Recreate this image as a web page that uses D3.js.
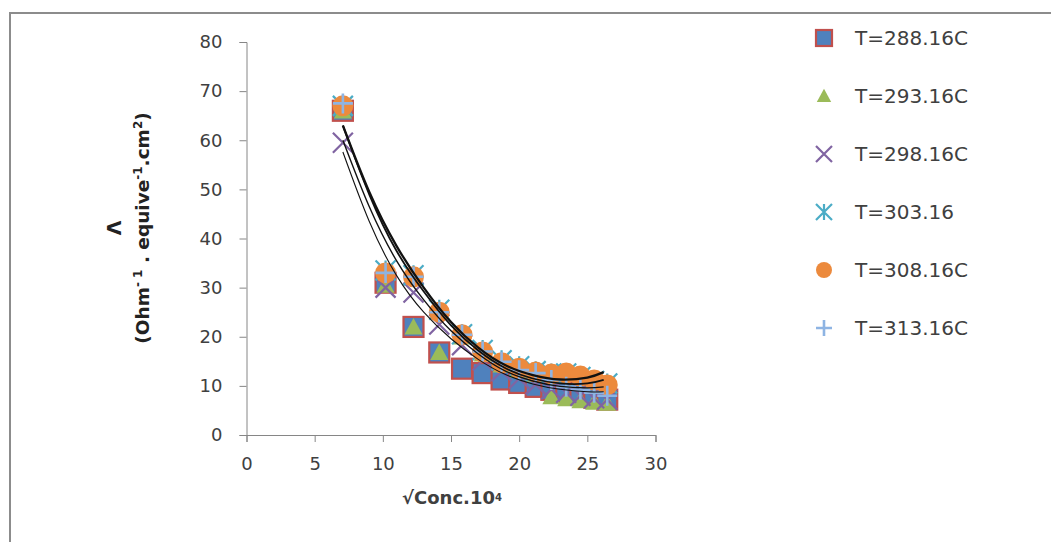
<!DOCTYPE html>
<html><head><meta charset="utf-8">
<script src="https://cdn.jsdelivr.net/npm/d3@7/dist/d3.min.js"></script>
<style>html,body{margin:0;padding:0;background:#fff;} svg{display:block;}</style>
</head><body>
<svg id="c" width="1051" height="542"></svg>
<script>
// ---- data ----
const xVals   = [7.07, 10.2, 12.25, 14.14, 15.81, 17.32, 18.71, 20.0, 21.21, 22.36, 23.45, 24.49, 25.5, 26.46];
const s288    = [66, 31, 22, 16.8, 13.5, 12.6, 11.3, 10.6, 9.8, 9.2, 8.7, 8.2, 7.6, 7.2];
const s293    = [66, 30.5, 22, 16.8, 20.0, 16.5, 14.3, 13.2, 12.4, 7.8, 7.4, 7.0, 6.7, 6.5];
const s298    = [59.5, 30, 29, 22.5, 18.3, 15.2, 13.0, 11.5, 10.3, 9.3, 8.6, 8.0, 7.5, 7.2];
const s303    = [67, 33.5, 32.5, 25.5, 20.5, 17.3, 15.2, 14.0, 13.0, 12.5, 12.5, 11.8, 11.0, 10.5];
const s308    = [67, 33, 32.2, 25, 20.4, 16.9, 14.7, 13.6, 12.8, 12.4, 12.6, 12.0, 11.2, 10.2];
const s313    = [67.5, 33, 32.2, 25, 20.4, 17, 14.9, 13.2, 12.6, 11.2, 9.8, 9.2, 8.6, 8.0];
const seriesNames = ["T=288.16C", "T=293.16C", "T=298.16C", "T=303.16", "T=308.16C", "T=313.16C"];
const xTicks = [0, 5, 10, 15, 20, 25, 30];
const yTicks = [0, 10, 20, 30, 40, 50, 60, 70, 80];
// trendlines (black curves), values at these x positions
const trendX  = [7.07, 9, 11, 13, 15, 17, 19, 21, 23, 25, 26.2];
const trend1  = [63, 49.5, 38.5, 30.0, 23.0, 17.8, 14.2, 12.2, 11.3, 11.7, 12.8];
const trend2  = [63, 49, 37.5, 29.2, 22.3, 17.2, 13.6, 11.5, 10.5, 10.5, 11.2];
const trend3  = [60, 46.5, 35.5, 27.5, 21.2, 16.5, 13.0, 11.0, 9.9, 9.6, 9.8];
const trend4  = [57.6, 43.5, 32.5, 25.0, 19.6, 15.4, 12.3, 10.4, 9.3, 8.8, 8.8];

const allSeries = [s288, s293, s298, s303, s308, s313];
const trends = [trend4, trend3, trend2, trend1];
const trendWidths = [1.1, 1.4, 1.8, 2.3];
const shapes = ["square", "triangle", "x", "star", "circle", "plus"];
const colors = ["#4f81bd", "#9bbb59", "#8064a2", "#4bacc6", "#ec8a3d", "#8eb4e3"];

const svg = d3.select("#c");
const FONT = "DejaVu Sans, Verdana, sans-serif";

// outer border
svg.append("rect").attr("x", 10).attr("y", 13).attr("width", 1100).attr("height", 600)
  .attr("fill", "#fff").attr("stroke", "#8c8c8c").attr("stroke-width", 2);

const x = d3.scaleLinear().domain([0, 30]).range([246.5, 655.5]);
const y = d3.scaleLinear().domain([0, 80]).range([435, 42]);

const axisColor = "#868686";
const gx = svg.append("g").attr("transform", `translate(0,${y(0)})`)
  .call(d3.axisBottom(x).tickValues(xTicks).tickSize(7).tickPadding(15).tickFormat(d3.format("d")));
const gy = svg.append("g").attr("transform", `translate(${x(0)},0)`)
  .call(d3.axisLeft(y).tickValues(yTicks).tickSize(7).tickPadding(17).tickFormat(d3.format("d")));
[gx, gy].forEach(g => {
  g.select(".domain").attr("stroke", axisColor);
  g.selectAll(".tick line").attr("stroke", axisColor);
  g.selectAll(".tick text").attr("fill", "#404040").style("font-family", FONT).style("font-size", "18px");
});

// marker drawing
function drawMarker(g, shape, color, s) {
  const h = s / 2;
  if (shape === "square") {
    g.append("rect").attr("x", -h).attr("y", -h).attr("width", s).attr("height", s)
      .attr("fill", color).attr("stroke", "#c0504d").attr("stroke-width", 2.2);
  } else if (shape === "triangle") {
    const t = h * 0.9;
    g.append("path").attr("d", `M0,${-t}L${t},${t * 0.85}L${-t},${t * 0.85}Z`).attr("fill", color);
  } else if (shape === "x") {
    g.append("path").attr("d", `M${-h},${-h}L${h},${h}M${-h},${h}L${h},${-h}`)
      .attr("stroke", color).attr("stroke-width", 2.2).attr("fill", "none");
  } else if (shape === "star") {
    g.append("path").attr("d", `M${-h},${-h}L${h},${h}M${-h},${h}L${h},${-h}M0,${-h}L0,${h}`)
      .attr("stroke", color).attr("stroke-width", 2.2).attr("fill", "none");
  } else if (shape === "circle") {
    g.append("circle").attr("r", h).attr("fill", color);
  } else if (shape === "plus") {
    g.append("path").attr("d", `M${-h},0L${h},0M0,${-h}L0,${h}`)
      .attr("stroke", color).attr("stroke-width", 2.6).attr("fill", "none");
  }
}

const plot = svg.append("g");
allSeries.forEach((vals, si) => {
  const g = plot.append("g");
  vals.forEach((v, i) => {
    if (v == null) return;
    const m = g.append("g").attr("transform", `translate(${x(xVals[i])},${y(v)})`);
    drawMarker(m, shapes[si], colors[si], shapes[si] === "circle" ? 21 : 20);
  });
});

// trendlines
const line = d3.line().x(d => x(d[0])).y(d => y(d[1])).curve(d3.curveNatural);
trends.forEach((tv, k) => {
  svg.append("path").attr("d", line(trendX.map((xv, i) => [xv, tv[i]]))).attr("fill", "none")
    .attr("stroke", "#111").attr("stroke-width", trendWidths[k]);
});

// axis titles
const xt = svg.append("text").attr("x", 452).attr("y", 504).attr("text-anchor", "middle")
  .style("font-family", FONT).style("font-size", "18px").style("font-weight", "bold").attr("fill", "#404040");
xt.append("tspan").text("√Conc.10");
xt.append("tspan").attr("dy", -3).style("font-size", "10px").text("4");

const yt = svg.append("g").attr("transform", "translate(0,228) rotate(-90)");
yt.append("text").attr("x", 0).attr("y", 121).attr("text-anchor", "middle")
  .style("font-family", FONT).style("font-size", "19px").style("font-weight", "bold").attr("fill", "#222").text("Λ");
const yt2 = yt.append("text").attr("x", 0).attr("y", 149).attr("text-anchor", "middle")
  .style("font-family", FONT).style("font-size", "18.5px").style("font-weight", "bold").attr("fill", "#222");
yt2.append("tspan").text("(Ohm");
yt2.append("tspan").attr("dy", -7).style("font-size", "12px").text("- 1");
yt2.append("tspan").attr("dy", 7).text(" . equive");
yt2.append("tspan").attr("dy", -7).style("font-size", "12px").text("-1");
yt2.append("tspan").attr("dy", 7).text(".cm");
yt2.append("tspan").attr("dy", -7).style("font-size", "12px").text("2");
yt2.append("tspan").attr("dy", 7).text(")");

// legend
const legend = svg.append("g");
seriesNames.forEach((name, i) => {
  const cy = 38 + i * 58;
  const m = legend.append("g").attr("transform", `translate(824,${cy})`);
  drawMarker(m, shapes[i], colors[i], 16);
  legend.append("text").attr("x", 855).attr("y", cy + 7).text(name)
    .style("font-family", FONT).style("font-size", "20px").attr("fill", "#404040");
});
</script>
</body></html>
